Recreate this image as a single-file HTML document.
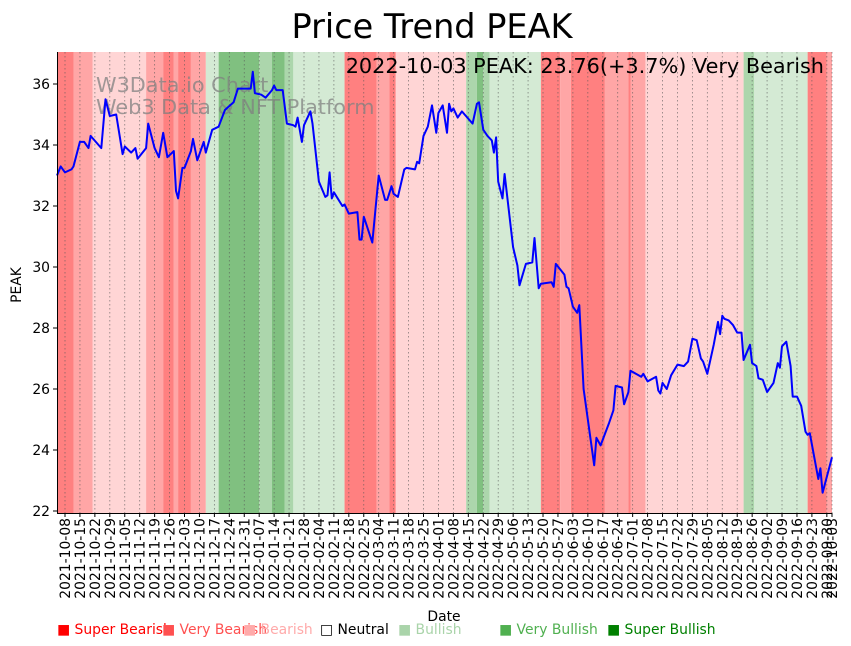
<!DOCTYPE html>
<html><head><meta charset="utf-8"><style>
body{margin:0;background:#fff;}
svg{display:block;font-family:"DejaVu Sans","Liberation Sans",sans-serif;}
</style></head><body>
<svg id="chart" width="851" height="646" viewBox="0 0 851 646" xmlns="http://www.w3.org/2000/svg">
<text x="432" y="38" font-size="33.5" text-anchor="middle">Price Trend PEAK</text>
<g id="bands"></g>
<g id="grid"></g>
<text x="96" y="92" font-size="20.8" fill="#808080" fill-opacity="0.75">W3Data.io Chart</text>
<text x="96" y="114" font-size="20.8" fill="#808080" fill-opacity="0.75">Web3 Data &amp; NFT Platform</text>
<path id="line" fill="none" stroke="#0000ff" stroke-width="2" stroke-linejoin="round"/>
<text x="824" y="73" font-size="20.8" text-anchor="end">2022-10-03 PEAK: 23.76(+3.7%) Very Bearish</text>
<line x1="57.5" y1="52" x2="57.5" y2="513.5" stroke="#000" stroke-width="1"/>
<line x1="57" y1="513.5" x2="832" y2="513.5" stroke="#000" stroke-width="1"/>
<g id="yaxis"></g>
<g id="xaxis"></g>
<text transform="translate(21,285) rotate(-90)" font-size="13.9" text-anchor="middle">PEAK</text>
<text x="444" y="621" font-size="13.9" text-anchor="middle">Date</text>
<g font-size="13.9">
<text x="57" y="634" fill="#ff0000">■ Super Bearish</text>
<text x="162" y="634" fill="#ff5050">■ Very Bearish</text>
<text x="243" y="634" fill="#ffaaaa">■ Bearish</text>
<text x="320" y="634" fill="#000">□ Neutral</text>
<text x="398" y="634" fill="#aad4aa">■ Bullish</text>
<text x="499" y="634" fill="#50b050">■ Very Bullish</text>
<text x="607" y="634" fill="#008000">■ Super Bullish</text>
</g>
</svg>
<script>
// days since 2021-10-08
const priceDays=[-4,-2,0,3,4,7,9,11,12,17,19,21,24,27,28,31,33,34,38,39,42,44,46,48,51,52,53,55,56,59,60,62,65,66,69,72,75,79,81,87,88,89,92,94,97,98,99,102,104,107,108,109,111,112,115,116,119,122,123,124,125,126,130,131,133,137,138,139,140,144,147,150,151,153,154,156,159,160,164,165,166,168,170,172,174,175,177,179,180,181,182,184,186,191,193,194,196,198,200,201,202,203,205,206,210,212,213,216,219,220,222,223,228,229,230,234,235,236,238,240,241,243,248,249,251,255,257,258,261,262,264,265,270,271,273,277,278,279,280,282,284,287,290,292,294,296,298,299,301,304,306,307,308,309,311,313,315,317,318,321,322,324,325,327,329,332,334,335,336,338,340,341,343,345,347,348,349,353,354,355,360];
const priceValues=[33.0,33.3,33.1,33.2,33.3,34.1,34.1,33.9,34.3,33.9,35.5,34.95,35.0,33.7,33.95,33.75,33.9,33.55,33.9,34.7,33.9,33.6,34.4,33.6,33.8,32.5,32.25,33.25,33.25,33.8,34.2,33.5,34.1,33.75,34.5,34.6,35.15,35.4,35.85,35.85,36.4,35.7,35.65,35.55,35.8,35.95,35.8,35.8,34.7,34.65,34.6,34.9,34.1,34.65,35.1,34.7,32.8,32.3,32.35,33.1,32.25,32.45,32.0,32.05,31.75,31.8,30.9,30.9,31.65,30.8,33.0,32.2,32.2,32.65,32.4,32.3,33.2,33.25,33.2,33.45,33.4,34.3,34.6,35.3,34.4,35.05,35.3,34.4,35.35,35.1,35.2,34.9,35.1,34.7,35.35,35.4,34.5,34.3,34.15,33.75,34.25,32.8,32.25,33.05,30.65,30.05,29.4,30.1,30.15,30.95,29.3,29.45,29.5,29.35,30.1,29.75,29.35,29.3,28.7,28.5,28.75,26.0,23.5,24.4,24.15,24.9,25.3,26.1,26.05,25.5,25.9,26.6,26.4,26.5,26.25,26.4,25.95,25.85,26.2,26.0,26.45,26.8,26.75,26.9,27.65,27.6,27.0,26.9,26.5,27.45,28.2,27.8,28.4,28.3,28.25,28.1,27.85,27.85,26.95,27.45,26.85,26.75,26.35,26.3,25.9,26.2,26.85,26.7,27.4,27.55,26.75,25.75,25.75,25.45,24.6,24.5,24.55,23.05,23.4,22.6,23.76];
const bandStarts=[-4,4,13,38,46,51,53,59,66,72,91,97,103,107,131,146,152,155,188,193,196,199,223,232,237,253,264,265,272,318,323,348,357];
const bandEnds=[4,13,38,46,51,53,59,66,72,91,97,103,107,131,146,152,155,188,193,196,199,223,232,237,253,264,265,272,318,323,348,357,362];
const bandLevels=[-3,-2,-1,-2,-3,-2,-3,-2,1,3,2,3,2,1,-3,-2,-3,-1,2,3,2,1,-3,-2,-3,-2,-3,-2,-1,2,1,-3,-2];
const yTicks=[22,24,26,28,30,32,34,36];
const xTickLabels=["2021-10-08","2021-10-15","2021-10-22","2021-10-29","2021-11-05","2021-11-12","2021-11-19","2021-11-26","2021-12-03","2021-12-10","2021-12-17","2021-12-24","2021-12-31","2022-01-07","2022-01-14","2022-01-21","2022-01-28","2022-02-04","2022-02-11","2022-02-18","2022-02-25","2022-03-04","2022-03-11","2022-03-18","2022-03-25","2022-04-01","2022-04-08","2022-04-15","2022-04-22","2022-04-29","2022-05-06","2022-05-13","2022-05-20","2022-05-27","2022-06-03","2022-06-10","2022-06-17","2022-06-24","2022-07-01","2022-07-08","2022-07-15","2022-07-22","2022-07-29","2022-08-05","2022-08-12","2022-08-19","2022-08-26","2022-09-02","2022-09-09","2022-09-16","2022-09-23","2022-09-30","2022-10-03"];
const xTickDays=[0,7,14,21,28,35,42,49,56,63,70,77,84,91,98,105,112,119,126,133,140,147,154,161,168,175,182,189,196,203,210,217,224,231,238,245,252,259,266,273,280,287,294,301,308,315,322,329,336,343,350,357,360];

const NS="http://www.w3.org/2000/svg";
const X0=57,X1=832,Y0=52,Y1=513;
function xs(d){return Math.min(X1,Math.max(X0,65+2.134*d));}
function ys(v){return 511-(v-22)*30.5;}
const colors={"-3":"#ff8080","-2":"#ffa6a6","-1":"#ffd5d5","1":"#d4ead4","2":"#acd6ac","3":"#80c080"};
function mk(tag,attrs,parent){const e=document.createElementNS(NS,tag);for(const k in attrs)e.setAttribute(k,attrs[k]);parent.appendChild(e);return e;}
const bands=document.getElementById('bands');
for(let i=0;i<bandStarts.length;i++){
  const a=xs(bandStarts[i]),b=xs(bandEnds[i]);
  const r=mk('rect',{x:a,y:Y0,width:Math.max(0,b-a),height:Y1-Y0,fill:colors[bandLevels[i]]},bands);
  
  
}
const grid=document.getElementById('grid'),xa=document.getElementById('xaxis');
for(let i=0;i<xTickDays.length;i++){
  const x=xs(xTickDays[i]);
  const g=mk('line',{x1:x,y1:Y0,x2:x,y2:Y1,stroke:'#555','stroke-width':0.8,'stroke-dasharray':'1.5,2.5','stroke-opacity':0.7},grid);
  
  
  const t=mk('line',{x1:x,y1:Y1,x2:x,y2:Y1+4,stroke:'#000'},xa);
  
  
  const l=mk('text',{transform:`translate(${x+5},${Y1+5}) rotate(-90)`,'font-size':13.9,'text-anchor':'end'},xa);
  l.textContent=xTickLabels[i];
  
  
}
const ya=document.getElementById('yaxis');
for(const v of yTicks){
  const y=ys(v);
  const t=mk('line',{x1:X0-4,y1:y,x2:X0,y2:y,stroke:'#000'},ya);
  
  
  const l=mk('text',{x:X0-7,y:y+5,'font-size':13.9,'text-anchor':'end'},ya);
  l.textContent=v;
  
  
}
let d="";
for(let i=0;i<priceDays.length;i++){d+=(i?"L":"M")+xs(priceDays[i]).toFixed(1)+","+ys(priceValues[i]).toFixed(1);}
document.getElementById('line').setAttribute('d',d);
</script>
</body></html>
